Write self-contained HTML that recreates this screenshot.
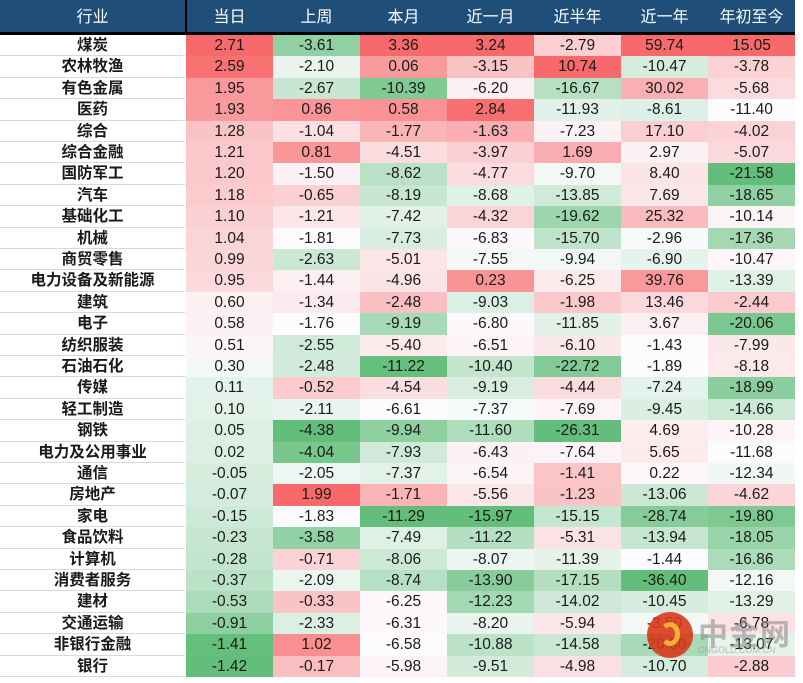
<!DOCTYPE html>
<html><head><meta charset="utf-8"><style>
body{margin:0;background:#fff;width:803px;height:683px;overflow:hidden;font-family:"Liberation Sans","Noto Sans CJK SC",sans-serif}
#wrap{position:absolute;left:0;top:0}
.h{position:absolute;top:0;height:32px;background:#1F4E79;color:#fff;font-size:16px;line-height:35px;text-align:center}
.c{position:absolute;height:21.4px;line-height:22px;text-align:center;font-size:15.5px;color:#1a1a1a}
.n{font-weight:bold;font-size:15.5px;border-bottom:1px solid #d9d9d9;box-sizing:border-box}
</style></head><body>
<div id="wrap"></div>
<div style="position:absolute;left:0;top:32px;width:795px;height:3px;background:#000"></div>
<div style="position:absolute;left:185px;top:0;width:2px;height:35px;background:#000"></div>
<div style="position:absolute;left:647px;top:612px;width:46px;height:46px;border-radius:50%;background:#d8381a;opacity:.9"></div>
<div style="position:absolute;left:660px;top:622px;width:20px;height:24px;border-radius:50%;border:5px solid #f5b030;border-left-color:transparent;box-sizing:border-box"></div>
<div style="position:absolute;left:698px;top:610px;font-size:30px;color:#888;opacity:.55;font-weight:bold;letter-spacing:1px">中金网</div>
<div style="position:absolute;left:698px;top:645px;font-size:9px;color:#999;opacity:.6">CNGOLD.COM.CN</div>
<script>
const headers=["行业","当日","上周","本月","近一月","近半年","近一年","年初至今"];
const names=["煤炭","农林牧渔","有色金属","医药","综合","综合金融","国防军工","汽车","基础化工","机械","商贸零售","电力设备及新能源","建筑","电子","纺织服装","石油石化","传媒","轻工制造","钢铁","电力及公用事业","通信","房地产","家电","食品饮料","计算机","消费者服务","建材","交通运输","非银行金融","银行"];
const dayVals=[2.71,2.59,1.95,1.93,1.28,1.21,1.20,1.18,1.10,1.04,0.99,0.95,0.60,0.58,0.51,0.30,0.11,0.10,0.05,0.02,-0.05,-0.07,-0.15,-0.23,-0.28,-0.37,-0.53,-0.91,-1.41,-1.42];
const weekVals=[-3.61,-2.10,-2.67,0.86,-1.04,0.81,-1.50,-0.65,-1.21,-1.81,-2.63,-1.44,-1.34,-1.76,-2.55,-2.48,-0.52,-2.11,-4.38,-4.04,-2.05,1.99,-1.83,-3.58,-0.71,-2.09,-0.33,-2.33,1.02,-0.17];
const monthVals=[3.36,0.06,-10.39,0.58,-1.77,-4.51,-8.62,-8.19,-7.42,-7.73,-5.01,-4.96,-2.48,-9.19,-5.40,-11.22,-4.54,-6.61,-9.94,-7.93,-7.37,-1.71,-11.29,-7.49,-8.06,-8.74,-6.25,-6.31,-6.58,-5.98];
const m1Vals=[3.24,-3.15,-6.20,2.84,-1.63,-3.97,-4.77,-8.68,-4.32,-6.83,-7.55,0.23,-9.03,-6.80,-6.51,-10.40,-9.19,-7.37,-11.60,-6.43,-6.54,-5.56,-15.97,-11.22,-8.07,-13.90,-12.23,-8.20,-10.88,-9.51];
const m6Vals=[-2.79,10.74,-16.67,-11.93,-7.23,1.69,-9.70,-13.85,-19.62,-15.70,-9.94,-6.25,-1.98,-11.85,-6.10,-22.72,-4.44,-7.69,-26.31,-7.64,-1.41,-1.23,-15.15,-5.31,-11.39,-17.15,-14.02,-5.94,-14.58,-4.98];
const y1Vals=[59.74,-10.47,30.02,-8.61,17.10,2.97,8.40,7.69,25.32,-2.96,-6.90,39.76,13.46,3.67,-1.43,-1.89,-7.24,-9.45,4.69,5.65,0.22,-13.06,-28.74,-13.94,-1.44,-36.40,-10.45,-3.50,-20.50,-10.70];
const ytdVals=[15.05,-3.78,-5.68,-11.40,-4.02,-5.07,-21.58,-18.65,-10.14,-17.36,-10.47,-13.39,-2.44,-20.06,-7.99,-8.18,-18.99,-14.66,-10.28,-11.68,-12.34,-4.62,-19.80,-18.05,-16.86,-12.16,-13.29,-6.78,-13.07,-2.88];
const cols=[dayVals,weekVals,monthVals,m1Vals,m6Vals,y1Vals,ytdVals];
const wrap=document.getElementById('wrap');
const X0=186,CW=87,Y0=35,RH=21.4;
function mix(a,b,t){return a.map((v,i)=>Math.round(v+(b[i]-v)*t));}
const RED=[248,105,107],WHITE=[252,252,255],GREEN=[99,190,123];
function color(v,arr){const s=[...arr].sort((a,b)=>a-b);const mn=s[0],mx=s[s.length-1];const md=(s[14]+s[15])/2;
 let c=v>=md?mix(WHITE,RED,(v-md)/(mx-md||1)):mix(WHITE,GREEN,(md-v)/(md-mn||1));return `rgb(${c})`;}
headers.forEach((h,i)=>{const d=document.createElement('div');d.className='h';


d.style.left=(i===0?0:X0+(i-1)*CW)+'px';d.style.width=(i===0?185:CW)+'px';d.textContent=h;wrap.appendChild(d);});
names.forEach((n,r)=>{const d=document.createElement('div');d.className='c n';


d.style.left='0px';d.style.width='185px';d.style.top=(Y0+r*RH)+'px';d.textContent=n;wrap.appendChild(d);
cols.forEach((arr,ci)=>{const e=document.createElement('div');e.className='c';


e.style.left=(X0+ci*CW)+'px';e.style.width=CW+'px';e.style.top=(Y0+r*RH)+'px';
e.style.background=color(arr[r],arr);e.textContent=arr[r].toFixed(2);wrap.appendChild(e);});});
</script>
</body></html>
